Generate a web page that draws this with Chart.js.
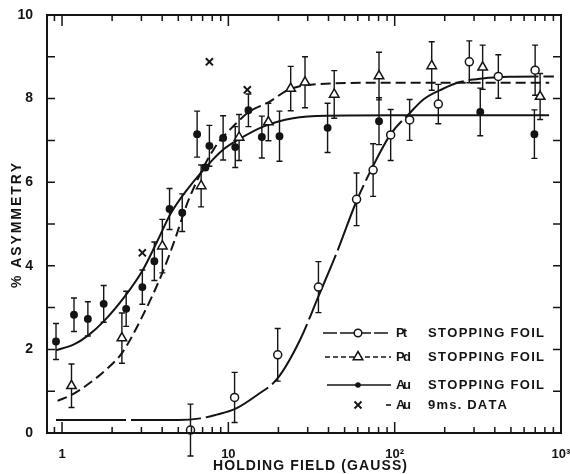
<!DOCTYPE html>
<html><head><meta charset="utf-8">
<script src="https://cdn.jsdelivr.net/npm/chart.js@4/dist/chart.umd.min.js"></script>
<style>html,body{margin:0;padding:0;background:#fff;}</style>
</head><body>
<canvas id="c" width="570" height="474" style="width:570px;height:474px;display:block"></canvas>
<script>
// ---------- data ----------
// Au stopping foil (filled circles)
const auX   = [0.92,1.18,1.43,1.78,2.43,3.04,3.59,4.43,5.28,6.49,7.28,7.69,9.3,11.0,13.2,15.9,20.3,39.5,80.5,327,692];
const auY   = [2.19,2.83,2.73,3.09,2.97,3.49,4.11,5.36,5.27,7.15,6.35,6.87,7.06,6.84,7.72,7.08,7.10,7.30,7.46,7.68,7.15];
const auErr = [0.43,0.40,0.41,0.44,0.42,0.41,0.46,0.49,0.45,0.55,0,0.49,0.53,0.49,0.39,0.50,0.60,0.59,0.56,0.57,0.58];
// Pd stopping foil (open triangles)
const pdX   = [1.14,2.29,4.01,6.86,11.6,17.4,23.7,28.9,43.3,80.5,167,338,749];
const pdY   = [1.13,2.27,4.47,5.91,7.07,7.44,8.24,8.39,8.10,8.54,8.78,8.75,8.05];
const pdErr = [0.52,0.60,0.64,0.50,0.55,0.45,0.53,0.61,0.57,0.57,0.58,0.53,0.55];
// Pt stopping foil (open circles)
const ptX   = [5.92,10.9,19.8,34.8,59,74.2,94.6,123,183,281,420,699];
const ptY   = [0.07,0.85,1.87,3.49,5.59,6.29,7.13,7.49,7.87,8.88,8.53,8.68];
const ptErr = [0.62,0.60,0.63,0.61,0.63,0.63,0.61,0.49,0.47,0.50,0.52,0.60];
// Au 9 ms data (crosses)
const au9X  = [3.04,7.69,13.0];
const au9Y  = [4.31,8.88,8.21];
// fitted curves
const auCurveX = [0.92,1.18,1.43,1.78,2.43,3.04,3.7,4.5,5.4,7.28,9.36,11.6,16.2,24.5,39,100,848];
const auCurveY = [1.98,2.12,2.33,2.67,3.31,3.88,4.55,5.25,5.72,6.35,6.79,7.03,7.33,7.53,7.59,7.60,7.60];
const pdCurveX = [0.94,1.14,1.46,1.83,2.29,3.04,4.01,4.81,5.4,5.78,8.17,11.3,13.5,17.4,23.5,40.8,100,850];
const pdCurveY = [0.77,0.91,1.19,1.51,1.91,2.79,3.83,4.67,5.27,5.59,6.79,7.43,7.70,7.91,8.23,8.36,8.38,8.38];
const ptCurveX = [0.92,5.0,6.8,8.5,10.9,14.9,19.8,27,34.8,44.8,59,74.2,94.6,123,150,194,244,338,490,907];
const ptCurveY = [0.31,0.31,0.35,0.44,0.57,0.91,1.31,2.23,3.27,4.31,5.55,6.39,7.15,7.65,7.99,8.23,8.39,8.48,8.52,8.53];
// axes
const xTickValues = [1,10,100,1000];
const xTickLabels = ['1','10','10\u00B2','10\u00B3'];
const yTickValues = [0,2,4,6,8,10];
const yTickLabels = ['0','2','4','6','8','10'];
const xTitle = 'HOLDING FIELD (GAUSS)';
const yTitle = '% ASYMMETRY';
const legendNames = ['Pt','Pd','Au','Au'];
const legendTexts = ['STOPPING FOIL','STOPPING FOIL','STOPPING FOIL','9ms. DATA'];

const INK = '#141414';
const FONT = '"Liberation Sans", Arial, sans-serif';
const pts = (xs, ys) => xs.map((x,i)=>({x, y: ys[i]}));

function spacedText(ctx, text, x, y, width) {
  // draw text starting at x so that it spans "width" pixels
  const chars = [...text];
  const widths = chars.map(c => ctx.measureText(c).width);
  const natural = widths.reduce((a,b)=>a+b,0);
  const extra = chars.length > 1 ? (width - natural)/(chars.length-1) : 0;
  let cx = x;
  ctx.textAlign = 'left';
  chars.forEach((c,i)=>{ ctx.fillText(c, cx, y); cx += widths[i] + extra; });
}

const errorBars = {
  id: 'errorBars',
  beforeDatasetsDraw(chart) {
    const ctx = chart.ctx, xs = chart.scales.x, ys = chart.scales.y;
    ctx.save();
    ctx.strokeStyle = INK; ctx.lineWidth = 1.4;
    chart.data.datasets.forEach(ds => {
      if (!ds.errorValues) return;
      ds.data.forEach((p,i) => {
        const e = ds.errorValues[i];
        if (!e) return;
        const px = xs.getPixelForValue(p.x);
        const y1 = ys.getPixelForValue(p.y + e), y2 = ys.getPixelForValue(p.y - e);
        ctx.beginPath();
        ctx.moveTo(px, y1); ctx.lineTo(px, y2);
        ctx.moveTo(px-3, y1); ctx.lineTo(px+3, y1);
        ctx.moveTo(px-3, y2); ctx.lineTo(px+3, y2);
        ctx.stroke();
      });
    });
    ctx.restore();
  }
};

const frameAndTicks = {
  id: 'frameAndTicks',
  afterDraw(chart) {
    const ctx = chart.ctx, a = chart.chartArea, xs = chart.scales.x, ys = chart.scales.y;
    ctx.save();
    ctx.strokeStyle = INK; ctx.lineWidth = 2;
    ctx.strokeRect(a.left, a.top, a.right - a.left, a.bottom - a.top);
    ctx.lineWidth = 1.5;
    ctx.beginPath();
    // x ticks (log, minor + major)
    const xv = [0.9];
    for (let d = 1; d <= 100; d *= 10) for (let k = 1; k <= 9; k++) xv.push(k*d);
    xv.push(1000);
    xv.forEach(v => {
      if (v < xs.min || v > xs.max) return;
      const px = xs.getPixelForValue(v);
      const major = xTickValues.includes(v);
      const len = major ? 11 : 6;
      ctx.moveTo(px, a.bottom); ctx.lineTo(px, a.bottom - len);
      ctx.moveTo(px, a.top); ctx.lineTo(px, a.top + len);
    });
    // y ticks every unit
    for (let v = 0; v <= 10; v++) {
      const py = ys.getPixelForValue(v);
      ctx.moveTo(a.left, py); ctx.lineTo(a.left + 8, py);
      ctx.moveTo(a.right, py); ctx.lineTo(a.right - 8, py);
    }
    ctx.stroke();

    // axis titles
    ctx.fillStyle = INK;
    ctx.font = 'bold 14px ' + FONT;
    ctx.textBaseline = 'middle';
    spacedText(ctx, xTitle, 213, 466, 194);
    ctx.save();
    ctx.translate(17, 288);
    ctx.rotate(-Math.PI/2);
    spacedText(ctx, yTitle, 0, 0, 125);
    ctx.restore();

    // legend
    const rowsY = [333, 357, 385, 405];
    const lx0 = 323, lx1 = 391, mx = 358;
    ctx.lineWidth = 1.6;
    rowsY.forEach((y, i) => {
      ctx.save();
      ctx.strokeStyle = INK; ctx.fillStyle = INK;
      ctx.beginPath();
      if (i === 0) { ctx.setLineDash([14,3]); ctx.moveTo(lx0, y); ctx.lineTo(lx1, y); }
      else if (i === 1) { ctx.setLineDash([5,3]); ctx.moveTo(lx0+2, y); ctx.lineTo(lx1, y); }
      else if (i === 2) { ctx.moveTo(lx0+4, y); ctx.lineTo(lx1, y); }
      else { ctx.moveTo(386, y); ctx.lineTo(391, y); }
      ctx.stroke();
      ctx.setLineDash([]);
      ctx.lineWidth = 1.5;
      if (i === 0) {
        ctx.beginPath(); ctx.arc(mx, y, 3.8, 0, Math.PI*2);
        ctx.fillStyle = '#fff'; ctx.fill(); ctx.stroke();
      } else if (i === 1) {
        ctx.beginPath(); ctx.moveTo(mx, y-5.5); ctx.lineTo(mx+4.8, y+2.8); ctx.lineTo(mx-4.8, y+2.8); ctx.closePath();
        ctx.fillStyle = '#fff'; ctx.fill(); ctx.stroke();
      } else if (i === 2) {
        ctx.beginPath(); ctx.arc(mx, y, 2.8, 0, Math.PI*2); ctx.fill();
      } else {
        ctx.lineWidth = 1.8;
        ctx.beginPath(); ctx.moveTo(mx-3.5, y-3.5); ctx.lineTo(mx+3.5, y+3.5);
        ctx.moveTo(mx+3.5, y-3.5); ctx.lineTo(mx-3.5, y+3.5); ctx.stroke();
      }
      ctx.restore();
      ctx.fillStyle = INK;
      ctx.font = 'bold 13px ' + FONT;
      ctx.textBaseline = 'middle';
      spacedText(ctx, legendNames[i], 396, y, legendNames[i] === 'Pt' ? 11 : 15);
      spacedText(ctx, legendTexts[i], 428, y, i === 3 ? 79 : 116);
    });
    ctx.restore();
  }
};

const markerBase = { showLine: false, borderColor: INK, borderWidth: 1.5, clip: false, order: 1 };
const curveBase = { showLine: true, pointRadius: 0, borderColor: INK, borderWidth: 2, cubicInterpolationMode: 'monotone', fill: false, order: 2 };

new Chart(document.getElementById('c'), {
  type: 'scatter',
  data: {
    datasets: [
      Object.assign({}, curveBase, { label: 'Pt fit', data: pts(ptCurveX, ptCurveY), borderDash: [70,5] }),
      Object.assign({}, curveBase, { label: 'Pd fit', data: pts(pdCurveX, pdCurveY), borderDash: [10,5] }),
      Object.assign({}, curveBase, { label: 'Au fit', data: pts(auCurveX, auCurveY) }),
      Object.assign({}, markerBase, { label: 'Pt STOPPING FOIL', data: pts(ptX, ptY), errorValues: ptErr,
        pointStyle: 'circle', pointRadius: 4, backgroundColor: '#fff' }),
      Object.assign({}, markerBase, { label: 'Pd STOPPING FOIL', data: pts(pdX, pdY), errorValues: pdErr,
        pointStyle: 'triangle', pointRadius: 5.5, backgroundColor: '#fff' }),
      Object.assign({}, markerBase, { label: 'Au STOPPING FOIL', data: pts(auX, auY), errorValues: auErr,
        pointStyle: 'circle', pointRadius: 3.2, backgroundColor: INK }),
      Object.assign({}, markerBase, { label: 'Au 9ms. DATA', data: pts(au9X, au9Y),
        pointStyle: 'crossRot', pointRadius: 5, borderWidth: 2, backgroundColor: INK })
    ]
  },
  options: {
    responsive: false,
    animation: false,
    devicePixelRatio: 1,
    layout: { padding: { left: 0, right: 9, top: 15, bottom: 0 } },
    plugins: { legend: { display: false }, tooltip: { enabled: false } },
    elements: { point: { hoverRadius: 0 } },
    scales: {
      x: {
        type: 'logarithmic', min: 0.812, max: 1000,
        grid: { display: false }, border: { display: false },
        afterBuildTicks: s => { s.ticks = xTickValues.map(v => ({ value: v })); },
        afterFit: s => { s.height = 41; s.paddingLeft = 0; s.paddingRight = 0; },
        ticks: { autoSkip: false, maxRotation: 0, padding: 6, color: INK,
          font: { family: FONT, size: 13, weight: 'bold' },
          callback: (v, i) => xTickLabels[i] }
      },
      y: {
        min: 0, max: 10,
        grid: { display: false }, border: { display: false },
        afterBuildTicks: s => { s.ticks = yTickValues.map(v => ({ value: v })); },
        afterFit: s => { s.width = 47; s.paddingTop = 0; s.paddingBottom = 0; },
        ticks: { padding: 6, color: INK, font: { family: FONT, size: 14, weight: 'bold' },
          callback: (v, i) => yTickLabels[i] }
      }
    }
  },
  plugins: [errorBars, frameAndTicks]
});
</script>
</body></html>
